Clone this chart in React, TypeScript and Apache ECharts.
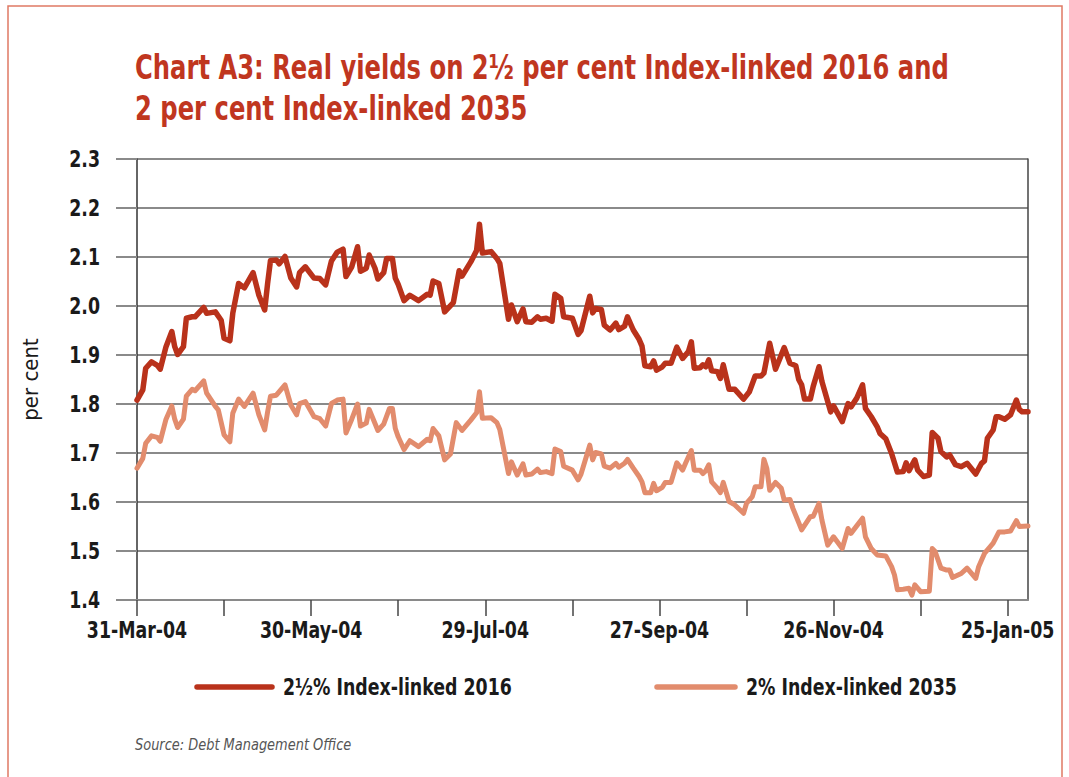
import React, { useEffect, useRef } from "react";
import * as echarts from "echarts";

// Day offsets from 31-Mar-2004 and real yields (per cent)
const days2016 = [0, 2, 3, 5, 7, 8, 10, 12, 13, 14, 16, 17, 19, 20, 23, 24, 27, 29, 30, 32, 33, 35, 37, 40, 42, 44, 45, 46, 48, 49, 51, 53, 55, 56, 58, 61, 63, 65, 67, 69, 71, 72, 74, 76, 77, 79, 80, 82, 83, 85, 86, 88, 89, 90, 92, 94, 97, 100, 101, 102, 104, 106, 109, 111, 112, 115, 117, 118, 119, 122, 124, 125, 128, 129, 131, 133, 134, 136, 138, 139, 141, 143, 144, 146, 147, 150, 152, 153, 156, 157, 158, 160, 161, 163, 165, 166, 168, 169, 171, 173, 174, 175, 177, 178, 179, 181, 182, 184, 186, 188, 190, 191, 192, 194, 195, 196, 197, 198, 200, 201, 202, 204, 206, 209, 211, 213, 215, 216, 218, 220, 223, 225, 227, 228, 229, 230, 232, 233, 235, 236, 239, 240, 243, 245, 246, 248, 250, 251, 253, 255, 256, 258, 260, 262, 264, 265, 266, 268, 269, 271, 273, 274, 276, 277, 279, 280, 282, 284, 286, 289, 291, 292, 293, 295, 296, 297, 299, 301, 303, 304, 305, 307];
const yield2016 = [1.808, 1.829, 1.873, 1.886, 1.879, 1.871, 1.917, 1.948, 1.917, 1.901, 1.917, 1.975, 1.978, 1.978, 1.997, 1.985, 1.988, 1.971, 1.934, 1.929, 1.985, 2.046, 2.037, 2.068, 2.022, 1.992, 2.046, 2.093, 2.094, 2.086, 2.101, 2.057, 2.039, 2.068, 2.08, 2.057, 2.056, 2.043, 2.092, 2.11, 2.116, 2.06, 2.08, 2.121, 2.071, 2.077, 2.104, 2.077, 2.055, 2.068, 2.097, 2.097, 2.057, 2.044, 2.011, 2.022, 2.011, 2.024, 2.022, 2.051, 2.046, 1.988, 2.007, 2.072, 2.061, 2.09, 2.113, 2.167, 2.108, 2.111, 2.097, 2.087, 1.973, 2.002, 1.968, 1.994, 1.968, 1.967, 1.978, 1.973, 1.975, 1.969, 2.024, 2.016, 1.978, 1.975, 1.942, 1.95, 2.02, 1.986, 1.995, 1.993, 1.961, 1.951, 1.965, 1.952, 1.959, 1.978, 1.951, 1.932, 1.918, 1.878, 1.876, 1.888, 1.869, 1.876, 1.883, 1.883, 1.916, 1.893, 1.907, 1.927, 1.873, 1.874, 1.88, 1.876, 1.89, 1.868, 1.866, 1.852, 1.88, 1.83, 1.83, 1.81, 1.825, 1.857, 1.857, 1.863, 1.924, 1.871, 1.915, 1.883, 1.878, 1.85, 1.839, 1.81, 1.81, 1.836, 1.876, 1.846, 1.784, 1.796, 1.764, 1.801, 1.794, 1.812, 1.839, 1.791, 1.774, 1.754, 1.74, 1.729, 1.699, 1.661, 1.662, 1.68, 1.664, 1.686, 1.665, 1.652, 1.655, 1.742, 1.73, 1.703, 1.692, 1.696, 1.676, 1.672, 1.679, 1.657, 1.679, 1.684, 1.73, 1.747, 1.774, 1.774, 1.769, 1.778, 1.808, 1.789, 1.784, 1.784];

const days2035 = [0, 2, 3, 5, 7, 8, 10, 12, 13, 14, 16, 17, 19, 20, 23, 24, 27, 28, 30, 32, 33, 35, 37, 40, 42, 44, 45, 46, 48, 51, 53, 55, 56, 58, 61, 63, 65, 67, 69, 71, 72, 74, 76, 77, 79, 80, 83, 85, 87, 88, 89, 90, 92, 94, 97, 100, 101, 102, 104, 106, 108, 110, 112, 115, 117, 118, 119, 122, 124, 125, 128, 129, 131, 133, 134, 136, 138, 139, 141, 143, 144, 146, 147, 150, 152, 153, 156, 157, 158, 160, 161, 163, 165, 166, 168, 169, 171, 173, 174, 175, 177, 178, 179, 181, 182, 184, 186, 188, 189, 191, 192, 194, 195, 196, 197, 198, 200, 201, 202, 204, 206, 209, 210, 212, 213, 215, 216, 217, 218, 220, 222, 223, 225, 226, 228, 229, 232, 233, 235, 236, 238, 240, 243, 245, 246, 250, 251, 253, 255, 258, 260, 261, 262, 264, 266, 267, 268, 270, 273, 274, 275, 277, 279, 280, 281, 284, 286, 289, 290, 292, 294, 295, 297, 299, 301, 303, 304, 307];
const yield2035 = [1.669, 1.689, 1.72, 1.735, 1.732, 1.724, 1.769, 1.796, 1.769, 1.752, 1.769, 1.816, 1.83, 1.827, 1.847, 1.822, 1.795, 1.788, 1.737, 1.723, 1.781, 1.81, 1.795, 1.822, 1.778, 1.747, 1.784, 1.816, 1.818, 1.839, 1.798, 1.778, 1.801, 1.805, 1.774, 1.77, 1.755, 1.801, 1.808, 1.81, 1.741, 1.769, 1.8, 1.755, 1.761, 1.789, 1.746, 1.759, 1.791, 1.791, 1.75, 1.733, 1.707, 1.725, 1.713, 1.728, 1.725, 1.75, 1.735, 1.686, 1.698, 1.762, 1.746, 1.767, 1.782, 1.825, 1.771, 1.772, 1.762, 1.748, 1.658, 1.682, 1.655, 1.678, 1.655, 1.657, 1.667, 1.66, 1.662, 1.658, 1.708, 1.703, 1.673, 1.665, 1.645, 1.657, 1.716, 1.686, 1.701, 1.698, 1.673, 1.669, 1.679, 1.671, 1.679, 1.687, 1.669, 1.652, 1.641, 1.619, 1.619, 1.638, 1.623, 1.63, 1.64, 1.64, 1.68, 1.665, 1.679, 1.705, 1.665, 1.665, 1.658, 1.664, 1.676, 1.641, 1.628, 1.619, 1.64, 1.601, 1.594, 1.577, 1.597, 1.611, 1.631, 1.631, 1.687, 1.669, 1.624, 1.64, 1.628, 1.604, 1.605, 1.587, 1.558, 1.543, 1.57, 1.571, 1.597, 1.563, 1.512, 1.529, 1.505, 1.546, 1.536, 1.567, 1.529, 1.505, 1.492, 1.49, 1.468, 1.451, 1.421, 1.422, 1.424, 1.41, 1.431, 1.417, 1.418, 1.505, 1.499, 1.465, 1.461, 1.461, 1.446, 1.454, 1.465, 1.444, 1.468, 1.495, 1.509, 1.516, 1.539, 1.539, 1.541, 1.562, 1.55, 1.551];

const seriesNames = ["2½% Index-linked 2016", "2% Index-linked 2035"];
const labelDays = [0, 60, 120, 180, 240, 300];
const tickDays = [0, 30, 60, 90, 120, 150, 180, 210, 240, 270, 300];
const yTickValues = [1.4, 1.5, 1.6, 1.7, 1.8, 1.9, 2.0, 2.1, 2.2, 2.3];
const titleLines = ["Chart A3: Real yields on 2½ per cent Index-linked 2016 and", "2 per cent Index-linked 2035"];
const sourceText = "Source: Debt Management Office";

const START = Date.UTC(2004, 2, 31);
const MONTHS = ["Jan", "Feb", "Mar", "Apr", "May", "Jun", "Jul", "Aug", "Sep", "Oct", "Nov", "Dec"];
function dayLabel(d: number): string {
  const dt = new Date(START + d * 86400000);
  const dd = String(dt.getUTCDate());
  const yy = String(dt.getUTCFullYear() % 100).padStart(2, "0");
  return `${dd}-${MONTHS[dt.getUTCMonth()]}-${yy}`;
}

const FONT = "'DejaVu Sans Condensed', 'Liberation Sans Narrow', sans-serif";
const RED = "#b9321b";
const SALMON = "#e28c6d";
const INK = "#1a1a1a";
const NARROW = 0.84;

export default function App() {
  const ref = useRef<HTMLDivElement>(null);
  useEffect(() => {
    if (!ref.current) return;
    const chart = echarts.init(ref.current, null, { renderer: "svg" });
    const dataA = days2016.map((d, i) => [d, yield2016[i]]);
    const dataB = days2035.map((d, i) => [d, yield2035[i]]);
    chart.setOption({
      animation: false,
      backgroundColor: "#ffffff",
      textStyle: { fontFamily: FONT },
      grid: { left: 137, right: 41, top: 159, bottom: 177, containLabel: false },
      xAxis: {
        type: "value",
        min: 0,
        max: 307,
        axisLine: { show: true, lineStyle: { color: "#8a8a8a", width: 2 } },
        axisTick: { show: true, customValues: tickDays, length: 16, lineStyle: { color: "#444", width: 1.5 } },
        axisLabel: { show: false },
        splitLine: { show: false },
      },
      yAxis: [
        {
          type: "value",
          min: 1.4,
          max: 2.3,
          interval: 0.1,
          name: "per cent",
          nameLocation: "middle",
          nameGap: 96,
          nameTextStyle: { fontFamily: FONT, fontSize: 22, color: INK },
          axisLine: { show: true, lineStyle: { color: "#333", width: 1.5 } },
          axisTick: { show: true, length: 21, lineStyle: { color: "#8a8a8a", width: 2 } },
          axisLabel: { show: false },
          splitLine: { show: true, lineStyle: { color: "#8a8a8a", width: 2 } },
        },
        {
          type: "value",
          position: "right",
          min: 1.4,
          max: 2.3,
          interval: 0.1,
          axisLine: { show: true, lineStyle: { color: "#444", width: 1.5 } },
          axisTick: { show: false },
          axisLabel: { show: false },
          splitLine: { show: false },
        },
      ],
      series: [
        {
          name: seriesNames[1],
          type: "line",
          data: dataB,
          showSymbol: false,
          symbol: "none",
          color: SALMON,
          lineStyle: { color: SALMON, width: 5, cap: "round", join: "round" },
        },
        {
          name: seriesNames[0],
          type: "line",
          data: dataA,
          showSymbol: false,
          symbol: "none",
          color: RED,
          lineStyle: { color: RED, width: 5.5, cap: "round", join: "round" },
        },
      ],
    });

    // Axis labels placed through the axes' own scales, drawn condensed
    const xLabelY = (chart.convertToPixel({ yAxisIndex: 0 }, 1.4) as number) + 18;
    const xLabels = labelDays.map((d) => ({
      type: "text",
      x: chart.convertToPixel({ xAxisIndex: 0 }, d) as number,
      y: xLabelY,
      scaleX: NARROW,
      silent: true,
      style: { text: dayLabel(d), font: `bold 23px ${FONT}`, fill: INK, align: "center", verticalAlign: "top" },
    }));
    const yLabelX = (chart.convertToPixel({ xAxisIndex: 0 }, 0) as number) - 37;
    const yLabels = yTickValues.map((v) => ({
      type: "text",
      x: yLabelX,
      y: chart.convertToPixel({ yAxisIndex: 0 }, v) as number,
      scaleX: NARROW,
      silent: true,
      style: { text: v.toFixed(1), font: `bold 23px ${FONT}`, fill: INK, align: "right", verticalAlign: "middle" },
    }));

    const legendY = 687;
    const legendItems = [
      { x1: 197, x2: 272, tx: 283, color: RED, name: seriesNames[0] },
      { x1: 657, x2: 735, tx: 746, color: SALMON, name: seriesNames[1] },
    ];
    const legend = legendItems.flatMap((it) => [
      {
        type: "line",
        silent: true,
        shape: { x1: it.x1, y1: legendY, x2: it.x2, y2: legendY },
        style: { stroke: it.color, lineWidth: 5.5, lineCap: "round" },
      },
      {
        type: "text",
        x: it.tx,
        y: legendY,
        scaleX: NARROW,
        silent: true,
        style: { text: it.name, font: `bold 23px ${FONT}`, fill: INK, align: "left", verticalAlign: "middle" },
      },
    ]);

    chart.setOption({
      graphic: [
        {
          type: "rect",
          silent: true,
          shape: { x: 8, y: 6, width: 1054, height: 800 },
          style: { fill: "none", stroke: "#e07a64", lineWidth: 1.5 },
        },
        {
          type: "text",
          x: 135,
          y: 47,
          scaleX: 0.793,
          silent: true,
          style: {
            text: titleLines.join("\n"),
            font: `bold 34px ${FONT}`,
            lineHeight: 41,
            fill: "#c0361f",
            align: "left",
            verticalAlign: "top",
          },
        },
        {
          type: "text",
          x: 135,
          y: 737,
          scaleX: 0.9,
          silent: true,
          style: { text: sourceText, font: `italic 16px ${FONT}`, fill: "#555", align: "left", verticalAlign: "top" },
        },
        ...xLabels,
        ...yLabels,
        ...legend,
      ],
    });
    return () => chart.dispose();
  }, []);
  return <div ref={ref} style={{ position: "absolute", left: 0, top: 0, width: 1069, height: 777, background: "#fff" }} />;
}
